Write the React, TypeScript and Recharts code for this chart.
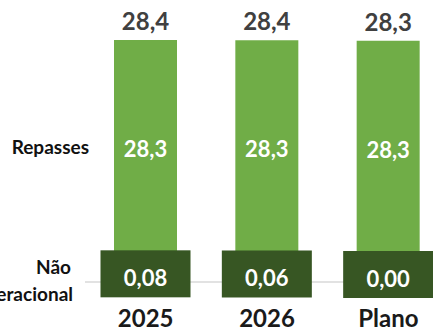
import { BarChart, Bar, XAxis, YAxis, LabelList } from 'recharts';

const CATEGORIES = ['2025', '2026', 'Plano'];
const REPASSES = [28.3, 28.3, 28.3];
const NAO_OPERACIONAL = [0.08, 0.06, 0.0];
const SERIES_NAMES = ['Repasses', 'Não', 'Operacional'];

const LIGHT_GREEN = '#70ad47';
const DARK_GREEN = '#375623';
const FONT = 'Lato, "Open Sans", sans-serif';

const chartData = CATEGORIES.map((name, i) => ({
  name,
  repasses: REPASSES[i],
  naoOp: NAO_OPERACIONAL[i],
  total: REPASSES[i] + NAO_OPERACIONAL[i],
}));

const fmt = (v: number, digits: number) => Number(v).toFixed(digits).replace('.', ',');

// pulls x/y/width/height out of whatever shape LabelList hands us
const box = (props: any) => {
  const vb = props.viewBox || {};
  return {
    x: props.x ?? vb.x,
    y: props.y ?? vb.y,
    width: props.width ?? vb.width,
    height: props.height ?? vb.height,
  };
};

// total above each bar
const TotalLabel = (props: any) => {
  const { x, y, width } = box(props);
  return (
    <text x={x + width / 2} y={y - 10} textAnchor="middle" fontFamily={FONT} fontWeight={700}
      fontSize={24} fill="#404040">
      {fmt(props.value, 1)}
    </text>
  );
};

// white value inside the light green part, plus the series name on the left of the first bar
const RepassesLabel = (props: any) => {
  const { x, y, width, height } = box(props);
  const cy = y + (height - 31) / 2 + 4;
  return (
    <g>
      <text x={x + width / 2} y={cy} dy="0.35em" textAnchor="middle" fontFamily={FONT}
        fontWeight={700} fontSize={22} fill="#ffffff">
        {fmt(props.value, 1)}
      </text>
      {props.index === 0 && (
        <text x={x - 25} y={cy - 2} dy="0.35em" textAnchor="end" fontFamily={FONT}
          fontWeight={700} fontSize={19} fill="#111111">
          {SERIES_NAMES[0]}
        </text>
      )}
    </g>
  );
};

// dark box sitting over the base of each bar, holding the Não Operacional value
const NaoOpLabel = (props: any) => {
  const { x, y, width, height } = box(props);
  const base = y + height;
  const cx = x + width / 2;
  const boxW = 90;
  return (
    <g>
      <rect x={cx - boxW / 2} y={base - 31} width={boxW} height={47} fill={DARK_GREEN} />
      <text x={cx} y={base - 3} dy="0.35em" textAnchor="middle" fontFamily={FONT}
        fontWeight={700} fontSize={22} fill="#ffffff">
        {fmt(props.value, 2)}
      </text>
      {props.index === 0 && (
        <g fontFamily={FONT} fontWeight={700} fontSize={19} fill="#111111">
          <text x={x - 43} y={base - 14} dy="0.35em" textAnchor="end">{SERIES_NAMES[1]}</text>
          <text x={x - 41} y={base + 13} dy="0.35em" textAnchor="end">{SERIES_NAMES[2]}</text>
        </g>
      )}
    </g>
  );
};

export default function App() {
  return (
    <div style={{ position: 'absolute', left: 0, top: 0, width: 433, height: 331, background: '#fff' }}>
      <BarChart
        width={433}
        height={331}
        data={chartData}
        margin={{ top: 40, right: -16, left: 85, bottom: 0 }}
      >
        <XAxis
          dataKey="name"
          height={49}
          tickLine={false}
          axisLine={{ stroke: '#d9d9d9', strokeWidth: 1.5 }}
          tickMargin={22}
          tick={{ fontFamily: FONT, fontWeight: 700, fontSize: 24, fill: '#1a1a1a' }}
        />
        <YAxis hide domain={[0, 'dataMax']} />
        <Bar dataKey="naoOp" stackId="a" fill={DARK_GREEN} barSize={63} isAnimationActive={false} />
        <Bar dataKey="repasses" stackId="a" fill={LIGHT_GREEN} barSize={63} isAnimationActive={false}>
          <LabelList dataKey="repasses" content={RepassesLabel} />
          <LabelList dataKey="naoOp" content={NaoOpLabel} />
          <LabelList dataKey="total" content={TotalLabel} />
        </Bar>
      </BarChart>
    </div>
  );
}
